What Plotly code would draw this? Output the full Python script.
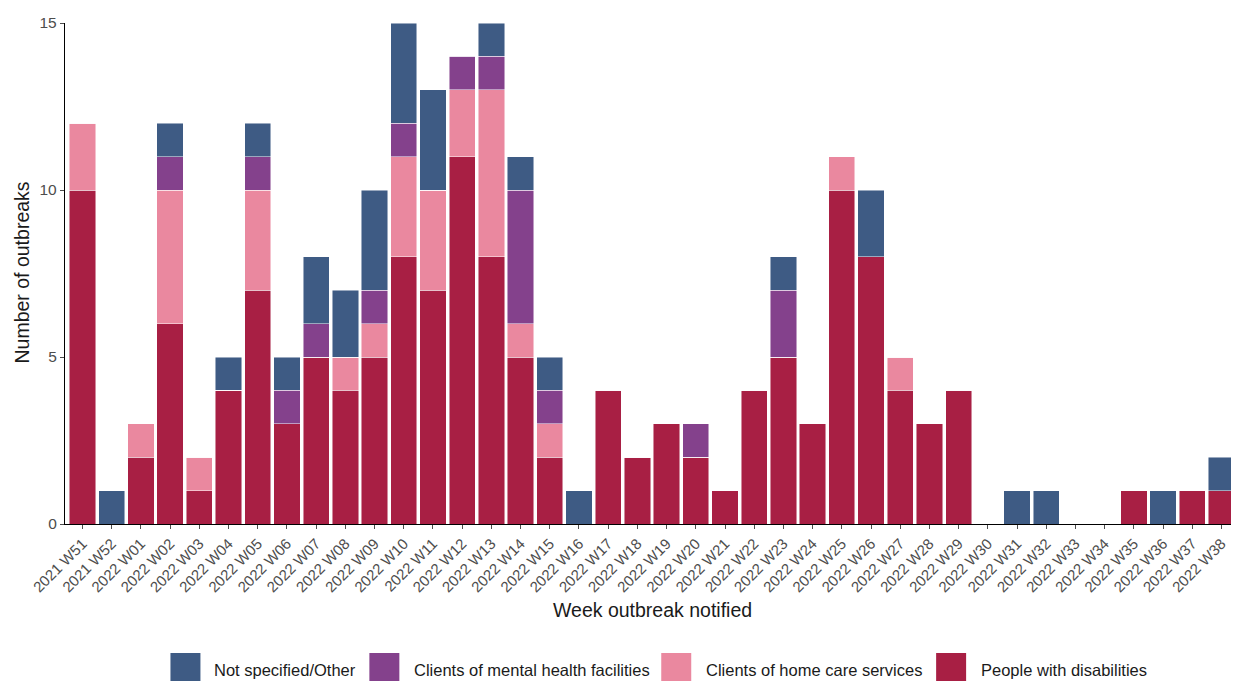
import plotly.graph_objects as go

weeks = ["2021 W51", "2021 W52"] + [f"2022 W{i:02d}" for i in range(1, 39)]

disabilities = [10, 0, 2, 6, 1, 4, 7, 3, 5, 4, 5, 8, 7, 11, 8, 5, 2, 0, 4, 2,
                3, 2, 1, 4, 5, 3, 10, 8, 4, 3, 4, 0, 0, 0, 0, 0, 1, 0, 1, 1]
home_care = [2, 0, 1, 4, 1, 0, 3, 0, 0, 1, 1, 3, 3, 2, 5, 1, 1, 0, 0, 0,
             0, 0, 0, 0, 0, 0, 1, 0, 1, 0, 0, 0, 0, 0, 0, 0, 0, 0, 0, 0]
mental = [0, 0, 0, 1, 0, 0, 1, 1, 1, 0, 1, 1, 0, 1, 1, 4, 1, 0, 0, 0,
          0, 1, 0, 0, 2, 0, 0, 0, 0, 0, 0, 0, 0, 0, 0, 0, 0, 0, 0, 0]
other = [0, 1, 0, 1, 0, 1, 1, 1, 2, 2, 3, 3, 3, 0, 1, 1, 1, 1, 0, 0,
         0, 0, 0, 0, 1, 0, 0, 2, 0, 0, 0, 0, 1, 1, 0, 0, 0, 1, 0, 1]

series = [
    ("People with disabilities", disabilities, "#A81F44"),
    ("Clients of home care services", home_care, "#EA889F"),
    ("Clients of mental health facilities", mental, "#84418C"),
    ("Not specified/Other", other, "#3E5B84"),
]

# the page puts the figure 8px in from the window's top-left corner
OFF = 8
W, H = 1239 - OFF, 681 - OFF
ML, MR, MT, MB = 64.5 - OFF, 0, 23 - OFF, 157
PW, PH = W - ML - MR, H - MT - MB


def px_x(px):
    """window pixel x -> paper x"""
    return (px - OFF - ML) / PW


def px_y(py):
    """window pixel y -> paper y"""
    return (H - MB - (py - OFF)) / PH


fig = go.Figure()
for name, vals, col in series:
    fig.add_trace(go.Bar(
        x=weeks, y=vals, name=name,
        marker=dict(color=col, line=dict(color="rgba(255,255,255,0.8)", width=0.6)),
        width=0.9, showlegend=False,
    ))

# manual legend (ggplot-style big keys), order: reversed stacking
legend_key_left = [170, 369, 661, 936]
legend_text_left = [212, 412, 704, 979]
shapes = []
annotations = []
for (name, vals, col), kx, tx in zip(series[::-1], legend_key_left, legend_text_left):
    shapes.append(dict(type="rect", xref="paper", yref="paper",
                       x0=px_x(kx), x1=px_x(kx + 30), y0=px_y(683), y1=px_y(653),
                       fillcolor=col, line=dict(width=0)))
    annotations.append(dict(text=name, xref="paper", yref="paper",
                            x=px_x(tx), y=px_y(670), xanchor="left", yanchor="middle",
                            showarrow=False, font=dict(size=16.5, color="#1a1a1a")))

annotations.append(dict(text="Week outbreak notified", xref="paper", yref="paper",
                        x=0.5, y=px_y(610), xanchor="center", yanchor="middle",
                        showarrow=False, font=dict(size=19.5, color="#1a1a1a")))
annotations.append(dict(text="Number of outbreaks", xref="paper", yref="paper",
                        x=px_x(21), y=px_y(273), xanchor="center", yanchor="middle",
                        textangle=-90, showarrow=False,
                        font=dict(size=19.5, color="#1a1a1a")))

fig.update_layout(
    barmode="stack",
    width=W, height=H,
    margin=dict(l=ML, r=MR, t=MT, b=MB, autoexpand=False),
    paper_bgcolor="white", plot_bgcolor="white",
    font=dict(family="Liberation Sans, Arial, sans-serif", size=15, color="#4D4D4D"),
    bargap=0.1,
    showlegend=False,
    shapes=shapes,
    annotations=annotations,
)

fig.update_xaxes(
    type="category",
    range=[-0.6, len(weeks) - 0.4],
    tickangle=-45,
    ticks="outside", ticklen=4, tickcolor="#4D4D4D", tickwidth=1,
    showline=True, linecolor="black", linewidth=1.3,
    showgrid=False, zeroline=False,
    tickfont=dict(size=15, color="#4D4D4D"),
)

fig.update_yaxes(
    range=[0, 15],
    tickvals=[0, 5, 10, 15],
    ticks="outside", ticklen=4, tickcolor="#4D4D4D", tickwidth=1,
    showline=True, linecolor="black", linewidth=1.3,
    showgrid=False, zeroline=False,
    tickfont=dict(size=15.5, color="#4D4D4D"),
)

fig.write_html("out.html")
